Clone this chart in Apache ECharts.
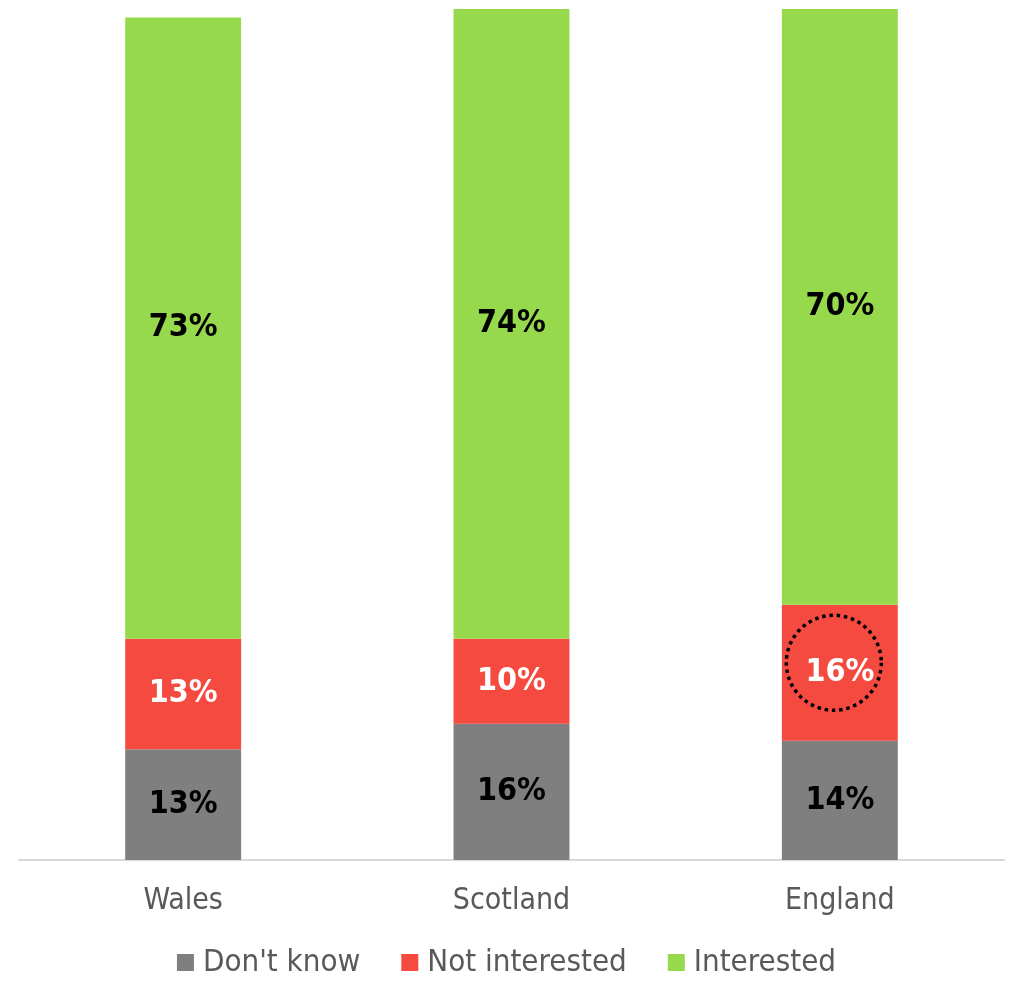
<!DOCTYPE html>
<html>
<head>
<meta charset="utf-8">
<script src="https://cdn.jsdelivr.net/npm/echarts@6/dist/echarts.min.js"></script>
<style>
  html, body { margin: 0; padding: 0; background: #ffffff; }
  #chart { width: 1013px; height: 981px; }
</style>
</head>
<body>
<div id="chart"></div>
<script>
// Share of respondents by nation (percent)
const categories = ['Wales', 'Scotland', 'England'];
const dontKnow = [13, 16, 14];
const notInterested = [13, 10, 16];
const interested = [73, 74, 70];

const seriesNames = ["Don't know", 'Not interested', 'Interested'];
const seriesColors = ['#7f7f7f', '#f54a40', '#97d94c'];
const labelColors = ['#000000', '#ffffff', '#000000'];

const FONT = '"DejaVu Sans Condensed", "DejaVu Sans", sans-serif';

const chart = echarts.init(document.getElementById('chart'), null, { renderer: 'canvas' });

function makeSeries(name, data, color, labelColor) {
  return {
    name: name,
    type: 'bar',
    stack: 'total',
    data: data,
    barWidth: '35.3%',
    itemStyle: { color: color },
    emphasis: { disabled: true },
    label: {
      show: true,
      position: 'inside',
      formatter: '{c}%',
      color: labelColor,
      fontFamily: FONT,
      fontWeight: 'bold',
      fontSize: 32
    }
  };
}

chart.setOption({
  animation: false,
  grid: { left: 19, right: 9, top: 9, bottom: 121, containLabel: false },
  legend: {
    data: seriesNames,
    left: 'center',
    top: 942,
    itemWidth: 17,
    itemHeight: 17,
    itemGap: 41,
    icon: 'rect',
    textStyle: { fontFamily: FONT, fontSize: 31, color: '#595959', padding: [0, 0, 0, 4] }
  },
  xAxis: {
    type: 'category',
    data: categories,
    axisLine: { show: true, lineStyle: { color: '#d9d9d9', width: 2 } },
    axisTick: { show: false },
    axisLabel: { fontFamily: FONT, fontSize: 30, color: '#595959', margin: 26 }
  },
  yAxis: {
    type: 'value',
    min: 0,
    max: 100,
    show: false,
    splitLine: { show: false }
  },
  series: [
    makeSeries(seriesNames[0], dontKnow, seriesColors[0], labelColors[0]),
    makeSeries(seriesNames[1], notInterested, seriesColors[1], labelColors[1]),
    makeSeries(seriesNames[2], interested, seriesColors[2], labelColors[2])
  ]
});

// Dotted ring highlighting England's "Not interested" share
const idx = categories.indexOf('England');
const mid = dontKnow[idx] + notInterested[idx] / 2;
const p = chart.convertToPixel({ xAxisIndex: 0, yAxisIndex: 0 }, [idx, mid]);
chart.setOption({
  graphic: [{
    type: 'circle',
    shape: { cx: p[0] - 6, cy: p[1] - 10, r: 47.5 },
    style: { fill: null, stroke: '#000000', lineWidth: 3.5, lineDash: [3.5, 3.8] },
    silent: true,
    z: 100
  }]
});
</script>
</body>
</html>
